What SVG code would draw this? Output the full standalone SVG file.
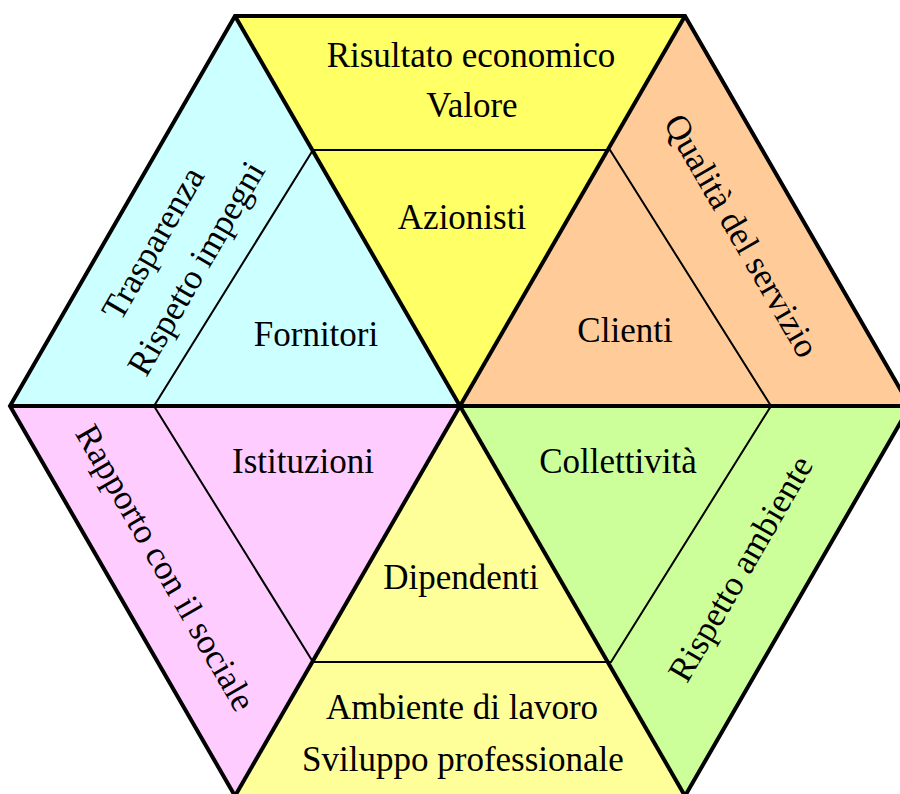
<svg xmlns="http://www.w3.org/2000/svg" width="900" height="794" viewBox="0 0 900 794">
<style>
.lbl{font-family:"Liberation Serif","Times New Roman",serif;font-size:35px;fill:#000;text-anchor:middle}
.thick{stroke:#000;stroke-width:4;fill:none;stroke-linejoin:miter}
.thin{stroke:#000;stroke-width:2;fill:none}
</style>
<rect width="900" height="794" fill="#fff"/>
<g id="azionisti">
<polygon points="460,406 235,16 685,16" fill="#FFFF66"/>
<text class="lbl" x="471" y="67">Risultato economico</text>
<text class="lbl" x="472" y="117">Valore</text>
<text class="lbl" x="462" y="229">Azionisti</text>
</g>
<g id="clienti">
<polygon points="460,406 685,16 910,406" fill="#FFCC99"/>
<text class="lbl" x="625" y="342">Clienti</text>
<g transform="translate(741,236) rotate(60)"><text class="lbl" x="0" y="11">Qualità del servizio</text></g>
</g>
<g id="collettivita">
<polygon points="460,406 910,406 685,796" fill="#CCFF99"/>
<text class="lbl" x="618" y="473">Collettività</text>
<g transform="translate(741,569) rotate(-60)"><text class="lbl" x="0" y="11">Rispetto ambiente</text></g>
</g>
<g id="dipendenti">
<polygon points="460,406 685,796 235,796" fill="#FFFF99"/>
<text class="lbl" x="461" y="589">Dipendenti</text>
<text class="lbl" x="462" y="719">Ambiente di lavoro</text>
<text class="lbl" x="463" y="771">Sviluppo professionale</text>
</g>
<g id="istituzioni">
<polygon points="460,406 235,796 10,406" fill="#FFCCFF"/>
<text class="lbl" x="303" y="473">Istituzioni</text>
<g transform="translate(165,568) rotate(60)"><text class="lbl" x="0" y="11">Rapporto con il sociale</text></g>
</g>
<g id="fornitori">
<polygon points="460,406 10,406 235,16" fill="#CCFFFF"/>
<text class="lbl" x="316" y="346">Fornitori</text>
<g transform="translate(175,256) rotate(-60)">
<text class="lbl" x="0" y="-14">Trasparenza</text>
<text class="lbl" x="0" y="36">Rispetto impegni</text>
</g>
</g>
<g id="connectors">
<polyline class="thin" points="313,150 610,150 771,406 611,662 313,662 154,406 313,150"/>
<line class="thick" x1="10" y1="406" x2="910" y2="406"/>
<line class="thick" x1="235" y1="16" x2="685" y2="796"/>
<line class="thick" x1="685" y1="16" x2="235" y2="796"/>
<polygon class="thick" points="235,16 685,16 910,406 685,796 235,796 10,406"/>
</g>
</svg>
